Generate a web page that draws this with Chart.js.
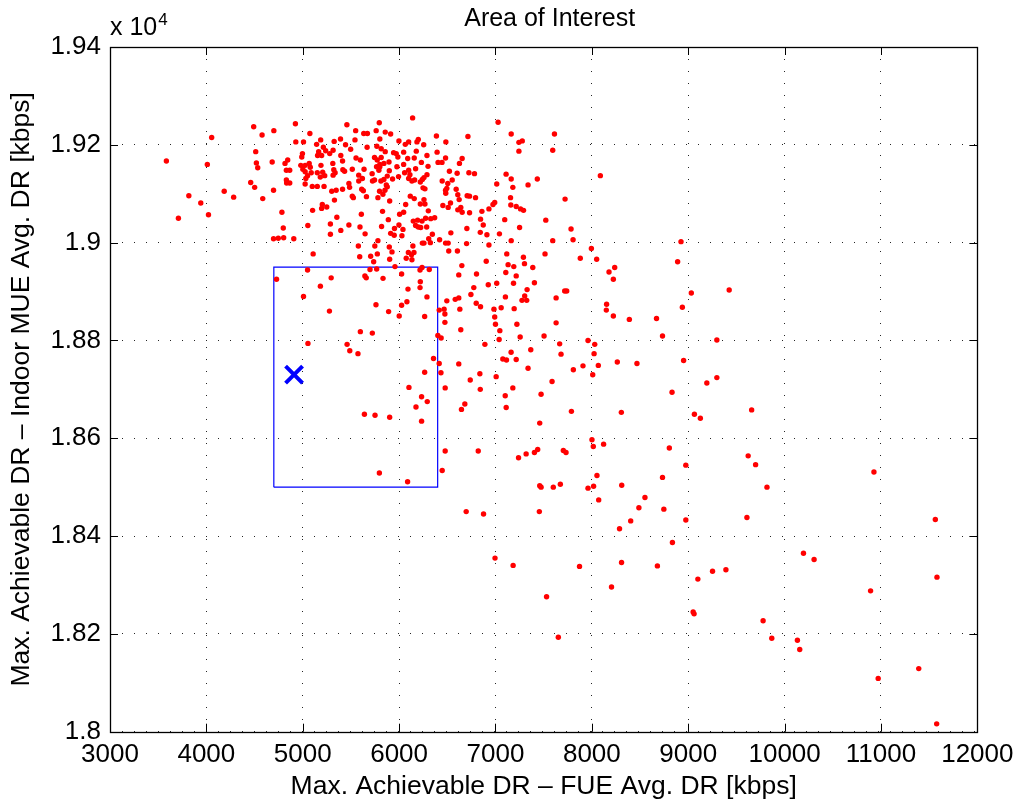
<!DOCTYPE html>
<html>
<head>
<meta charset="utf-8">
<title>Area of Interest</title>
<script src="https://cdn.jsdelivr.net/npm/chart.js@4/dist/chart.umd.min.js"></script>
<style>
  html, body { margin: 0; padding: 0; background: #ffffff; }
  #wrap { width: 1021px; height: 806px; }
</style>
</head>
<body>
<div id="wrap"><canvas id="c" width="1021" height="806"></canvas></div>
<script>
// Operating points: [FUE avg. DR (kbps), indoor MUE avg. DR (kbps)]
const operatingPoints = [
  [4924,19243],[4491,19237],[4700,19229],[4055,19215],[4578,19220],[5458,19241],[5794,19245],[5549,19229],
  [5633,19223],[5671,19223],[5762,19229],[5856,19226],[5912,19222],[5074,19223],[4928,19206],[5008,19206],
  [5186,19210],[5144,19201],[5326,19207],[5392,19212],[5444,19200],[5542,19210],[5668,19195],[5497,19191],
  [5769,19197],[5800,19212],[5814,19192],[4512,19186],[3585,19167],[4010,19160],[4519,19163],[4533,19153],
  [4683,19165],[4844,19169],[4816,19162],[4830,19148],[4865,19148],[4997,19182],[4990,19175],[4980,19158],
  [5025,19158],[5001,19150],[5067,19162],[5078,19154],[5165,19186],[5214,19195],[5238,19188],[5280,19182],
  [5315,19189],[5154,19178],[5196,19178],[5189,19158],[5312,19162],[5395,19178],[5413,19167],[5553,19173],
  [5598,19169],[5745,19174],[5773,19169],[5814,19174],[5800,19160],[5766,19155],[5842,19162],[5895,19165],
  [5856,19186],[5025,19145],[5050,19137],[5032,19131],[5025,19120],[5088,19143],[5151,19143],[5182,19134],
  [5207,19144],[5228,19137],[5322,19149],[5336,19143],[5315,19138],[5416,19149],[5434,19146],[5514,19150],
  [5636,19150],[5581,19138],[5619,19131],[5581,19126],[5720,19141],[5745,19128],[5724,19126],[5811,19126],
  [5842,19129],[5877,19136],[5898,19147],[5790,19148],[5800,19155],[4460,19123],[4501,19113],[4830,19128],
  [4833,19122],[4865,19122],[4697,19107],[4185,19105],[4283,19093],[4585,19090],[3818,19096],[3942,19081],
  [3710,19050],[4022,19057],[4784,19062],[4798,19030],[4697,19008],[4746,19009],[4802,19010],[4907,19008],
  [5053,19035],[5102,19066],[5196,19070],[5203,19078],[5249,19073],[5099,19115],[5151,19115],[5221,19115],
  [5301,19105],[5347,19107],[5329,19087],[5413,19109],[5479,19121],[5486,19113],[5354,19052],[5287,19038],
  [5287,19017],[5395,19025],[5479,19036],[5514,19095],[5525,19092],[5612,19109],[5629,19106],[5661,19094],
  [5608,19058],[5594,19032],[5647,19018],[5577,18993],[5748,18993],[5780,19092],[5832,19099],[5797,19105],
  [5877,19114],[5867,19118],[5853,19107],[5902,19085],[5828,19064],[5888,19047],[5818,19033],[5912,19019],
  [5780,19004],[5898,18991],
  [6140,19255],[7027,19246],[5998,19208],[6064,19201],[6099,19206],[6199,19211],[6185,19206],[6255,19200],
  [6387,19218],[6485,19206],[6714,19217],[7163,19222],[7612,19222],[7243,19205],[7278,19208],[7243,19187],
  [7594,19189],[5943,19184],[5970,19182],[5987,19175],[6047,19185],[6089,19172],[6178,19187],[6157,19173],
  [6289,19178],[6231,19164],[6047,19160],[5977,19155],[6171,19151],[6099,19148],[6057,19143],[5994,19135],
  [5932,19130],[6300,19156],[6404,19164],[6445,19164],[6482,19173],[6394,19185],[6626,19162],[6654,19172],
  [6522,19146],[6602,19142],[6724,19143],[6782,19141],[7110,19140],[7163,19130],[7434,19130],[8088,19137],
  [6112,19139],[6161,19128],[6099,19131],[6133,19126],[6241,19129],[6258,19133],[6289,19139],[6220,19124],
  [6447,19126],[6505,19121],[6551,19128],[6248,19112],[6268,19110],[6482,19107],[6495,19111],[6484,19101],
  [6592,19109],[6609,19098],[6623,19088],[6706,19096],[6731,19095],[6793,19092],[7013,19120],[7180,19113],
  [7338,19118],[7722,19089],[6116,19095],[6157,19090],[6258,19088],[6220,19079],[6268,19079],[6068,19078],
  [6533,19081],[6454,19076],[6509,19072],[6640,19072],[6609,19067],[6654,19062],[6731,19061],[6859,19064],
  [6932,19069],[6974,19078],[6992,19082],[7156,19092],[7159,19077],[7215,19074],[7260,19069],[7291,19066],
  [6303,19065],[6005,19058],[6047,19062],[6147,19044],[6192,19046],[6238,19044],[6171,19035],[6199,19032],
  [6224,19031],[6286,19032],[6275,19050],[6328,19049],[6369,19051],[6345,19017],[5952,19029],[5998,19036],
  [6040,19027],[6029,19014],[5949,19015],[6307,19008],[6324,19000],[6241,18999],[6258,18999],[6420,19006],
  [6482,18999],[6509,18999],[6537,19020],[6703,19029],[6845,19048],[6873,19036],[6842,19021],[6911,19016],
  [6932,18995],[7096,19047],[7041,19018],[7250,19031],[7522,19046],[7784,19028],[7805,19006],[7594,19004],
  [7163,19004],[6700,18998],[6143,18993],[7995,18988],
  [5108,18977],[5591,18971],[5705,18972],[5736,18961],[5774,18977],[5902,18966],[5926,18981],[6074,18968],
  [6133,18965],[6096,18980],[6154,18980],[6129,18975],[6515,18983],[6605,18983],[6904,18962],[7117,18977],
  [5050,18944],[4728,18925],[5295,18928],[5183,18911],[5008,18890],[5277,18860],[5645,18932],[5659,18928],
  [5698,18945],[5767,18946],[5833,18927],[5957,18951],[6026,18936],[6092,18905],[6217,18944],[6238,18949],
  [6313,18945],[6220,18920],[6217,18908],[6289,18889],[6081,18879],[6026,18872],[5891,18859],[6001,18850],
  [5760,18873],[6265,18849],[6416,18862],[6467,18864],[6475,18854],[6495,18881],[6582,18884],[6619,18887],
  [6630,18864],[6475,18837],[6651,18953],[6619,18934],[6803,18936],[6775,18908],[6745,18894],[6925,18914],
  [7013,18917],[7107,18939],[7131,18955],[6800,18876],[6845,18869],[6984,18864],[6992,18848],[7000,18833],
  [7045,18820],[7059,18867],[7103,18889],[7038,18802],[6890,18792],[6640,18822],[5598,18818],[5722,18815],
  [6402,18810],[6436,18805],[5054,18794],[5460,18792],[5488,18779],[5573,18773],[6357,18763],[6416,18753],
  [6619,18752],[7076,18762],[7114,18760],[6434,18734],[6265,18735],[6738,18719],[6838,18732],[7007,18726],
  [7514,18977],[7880,18968],[8050,18966],[7290,18970],[7190,18951],[7301,18957],[7387,18949],[7215,18932],
  [7187,18917],[7404,18918],[7328,18904],[7303,18891],[7275,18882],[7324,18882],[7194,18865],[7718,18901],
  [7739,18901],[7629,18887],[7629,18836],[7222,18833],[7256,18807],[7504,18809],[8178,18940],[8237,18949],
  [8223,18925],[8153,18874],[8150,18862],[8223,18850],[8389,18843],[8671,18845],[8890,18961],[9032,18897],
  [8939,18868],[9425,18903],[8733,18809],[9297,18801],[7960,18800],[7666,18793],[8030,18792],[8023,18773],
  [7680,18772],[7366,18781],[7162,18776],[7215,18761],[7338,18743],[7808,18740],[7908,18748],[8067,18749],
  [8264,18756],[8468,18753],[8952,18759],[8009,18730],[7587,18716],[9193,18713],[9297,18724],[8925,19002],
  [6102,18704],[6478,18703],[6842,18700],[7101,18687],[7111,18663],[6233,18685],[6292,18675],[6175,18664],
  [5640,18649],[5750,18647],[5902,18643],[6233,18635],[6682,18670],[6647,18659],[6478,18574],[6821,18574],
  [6447,18534],[5795,18529],[6088,18511],[6696,18450],[6876,18445],
  [7180,18703],[7473,18690],[7788,18655],[7459,18631],[8306,18653],[8832,18694],[9064,18649],[9126,18641],
  [8001,18597],[8015,18583],[8122,18588],[8804,18580],[7239,18560],[7318,18568],[7404,18571],[7438,18577],
  [7704,18575],[7732,18571],[8975,18545],[9622,18564],[8053,18524],[8733,18520],[7459,18503],[7473,18500],
  [7600,18500],[7673,18506],[7960,18498],[8018,18502],[8310,18504],[8071,18474],[8551,18479],[8488,18458],
  [8747,18455],[7455,18450],[8403,18431],[8975,18433],[9609,18438],
  [9658,18658],[9699,18546],[9817,18500],[10927,18531],[11564,18434],
  [8287,18415],[8836,18387],[6995,18355],[7183,18340],[7872,18338],[8308,18346],[8680,18339],[8204,18296],
  [7530,18276],[7652,18193],
  [9100,18312],[9252,18328],[9391,18331],[9051,18245],[9061,18241],[9777,18227],[9867,18191],[10196,18365],
  [10306,18352],[10892,18288],[11581,18316],[10133,18187],[10157,18168],[11392,18129],[10971,18109],[11578,18016]
];

// Area of interest (rectangle corners) and the selected operating point
const areaX = [4700, 4700, 6400, 6400, 4700];
const areaY = [18500, 18950, 18950, 18500, 18500];
const selectedX = [4910];
const selectedY = [18730];

// Axis ranges and tick values
const xTickValues = [3000, 4000, 5000, 6000, 7000, 8000, 9000, 10000, 11000, 12000];
const yTickValues = [18000, 18200, 18400, 18600, 18800, 19000, 19200, 19400];
const yExponent = 4;

const chartTitle = 'Area of Interest';
const xTitle = 'Max. Achievable DR \u2013 FUE Avg. DR [kbps]';
const yTitle = 'Max. Achievable DR \u2013 Indoor MUE Avg. DR [kbps]';

const FONT = '"Liberation Sans", Arial, Helvetica, sans-serif';
const TICK_FS = 26;
const LABEL_FS = 26.5;
const TITLE_FS = 25;

// Box, inward ticks, title and the axis multiplier
const matlabFrame = {
  id: 'matlabFrame',
  beforeDatasetsDraw(chart) {
    const {ctx, chartArea: a, scales: {x, y}} = chart;
    ctx.save();
    ctx.strokeStyle = '#000';
    ctx.lineWidth = 1;
    ctx.beginPath();
    const tl = 8;
    xTickValues.forEach(v => {
      const px = Math.round(x.getPixelForValue(v)) + 0.5;
      ctx.moveTo(px, a.bottom); ctx.lineTo(px, a.bottom - tl);
      ctx.moveTo(px, a.top); ctx.lineTo(px, a.top + tl);
    });
    yTickValues.forEach(v => {
      const py = Math.round(y.getPixelForValue(v)) + 0.5;
      ctx.moveTo(a.left, py); ctx.lineTo(a.left + tl, py);
      ctx.moveTo(a.right, py); ctx.lineTo(a.right - tl, py);
    });
    ctx.stroke();
    ctx.lineWidth = 1.3;
    ctx.strokeRect(Math.round(a.left) + 0.5, Math.round(a.top) + 0.5,
                   Math.round(a.right - a.left), Math.round(a.bottom - a.top));
    ctx.restore();
  },
  afterDraw(chart) {
    const {ctx, chartArea: a} = chart;
    ctx.save();
    ctx.fillStyle = '#000';
    ctx.textBaseline = 'alphabetic';
    ctx.font = TITLE_FS + 'px ' + FONT;
    ctx.textAlign = 'center';
    ctx.fillText(chartTitle, (a.left + a.right) / 2 + 6, 26);
    ctx.textAlign = 'left';
    const base = 'x 10';
    ctx.fillText(base, a.left, 35);
    const w = ctx.measureText(base).width;
    ctx.font = '17px ' + FONT;
    ctx.fillText(String(yExponent), a.left + w + 1, 25);
    ctx.restore();
  }
};

const gridStyle = { color: 'rgba(0,0,0,0.85)', lineWidth: 1, drawTicks: false };

new Chart(document.getElementById('c'), {
  type: 'scatter',
  data: {
    datasets: [
      {
        label: 'operating points',
        data: operatingPoints.map(p => ({x: p[0], y: p[1]})),
        pointRadius: 2.7,
        pointHoverRadius: 2.7,
        pointBackgroundColor: '#ff0000',
        pointBorderWidth: 0,
        showLine: false
      },
      {
        label: 'area of interest',
        data: areaX.map((v, i) => ({x: v, y: areaY[i]})),
        showLine: true,
        fill: false,
        borderColor: '#0000ff',
        borderWidth: 1.2,
        pointRadius: 0,
        tension: 0
      },
      {
        label: 'selected',
        data: selectedX.map((v, i) => ({x: v, y: selectedY[i]})),
        pointStyle: 'crossRot',
        pointRadius: 12,
        pointHoverRadius: 12,
        borderColor: '#0000ff',
        pointBorderColor: '#0000ff',
        pointBorderWidth: 4,
        showLine: false
      }
    ]
  },
  options: {
    responsive: false,
    animation: false,
    events: [],
    layout: { padding: { top: 47, right: 42.5, bottom: 0, left: 0 } },
    plugins: { legend: { display: false }, tooltip: { enabled: false }, title: { display: false } },
    scales: {
      x: {
        type: 'linear',
        min: xTickValues[0],
        max: xTickValues[xTickValues.length - 1],
        afterBuildTicks: s => { s.ticks = xTickValues.map(v => ({value: v})); },
        afterFit: s => { s.height = 74.3; },
        grid: gridStyle,
        border: { display: false, dash: [1, 11] },
        ticks: { color: '#000', font: { family: FONT, size: TICK_FS }, padding: 7.5, maxRotation: 0,
                 callback: v => String(v) },
        title: { display: true, text: xTitle, color: '#000',
                 font: { family: FONT, size: LABEL_FS }, padding: { top: 0, bottom: 3.8 } }
      },
      y: {
        type: 'linear',
        min: yTickValues[0],
        max: yTickValues[yTickValues.length - 1],
        afterBuildTicks: s => { s.ticks = yTickValues.map(v => ({value: v})); },
        afterFit: s => { s.width = 110; },
        grid: gridStyle,
        border: { display: false, dash: [1, 11] },
        ticks: { color: '#000', font: { family: FONT, size: TICK_FS }, padding: 9,
                 callback: v => String(+(v / Math.pow(10, yExponent)).toFixed(2)) },
        title: { display: true, text: yTitle, color: '#000',
                 font: { family: FONT, size: LABEL_FS }, padding: { top: 6, bottom: 0 } }
      }
    }
  },
  plugins: [matlabFrame]
});
</script>
</body>
</html>
